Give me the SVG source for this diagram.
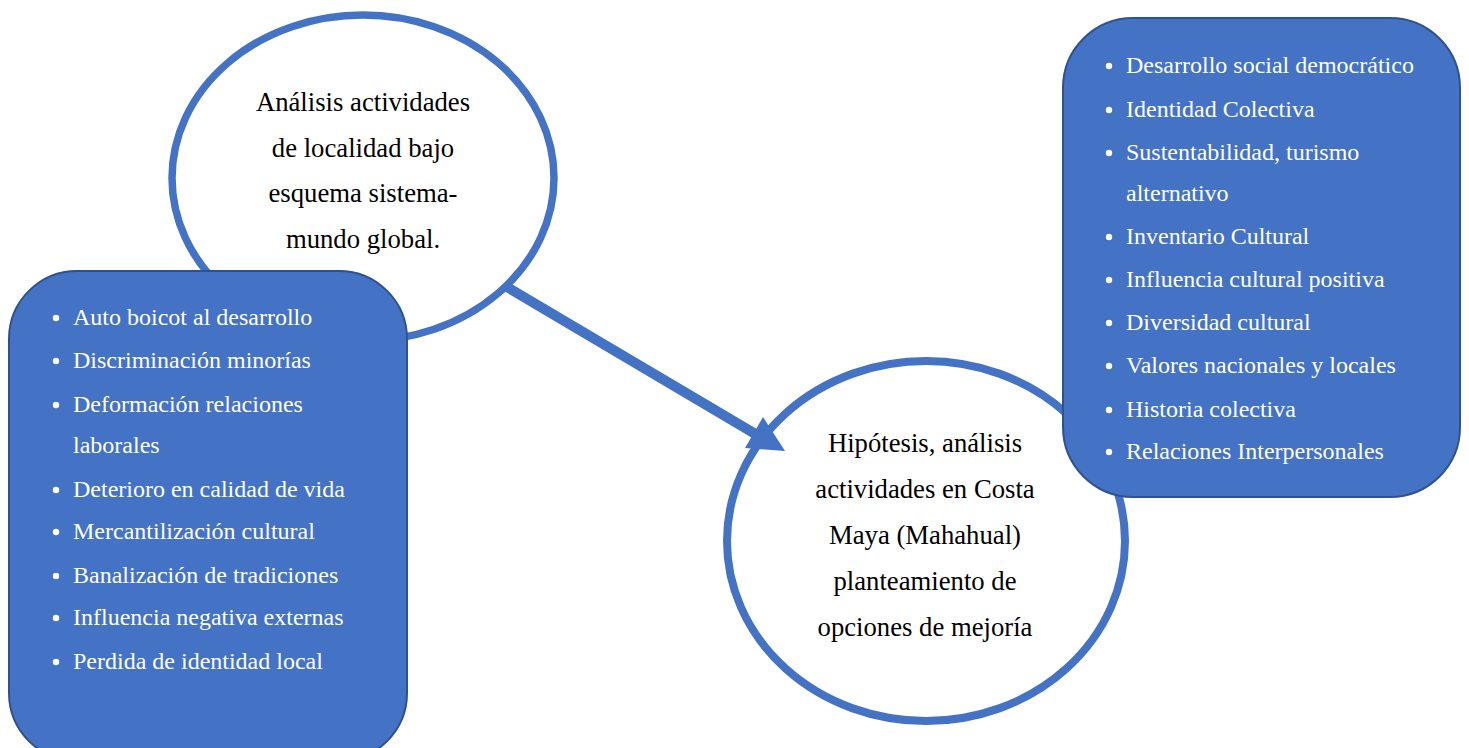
<svg xmlns="http://www.w3.org/2000/svg" width="1469" height="748" viewBox="0 0 1469 748">
<style>
.ell{fill:#fff;stroke:#4472C4;}
.box{fill:#4472C4;stroke:#2F528F;stroke-width:2;}
.et{font-family:"Liberation Serif","Times New Roman",serif;font-size:26.7px;fill:#000;text-anchor:middle;}
.bt{font-family:"Liberation Serif","Times New Roman",serif;font-size:24px;fill:#fff;}
.dot{fill:#fff;}
</style>
<rect width="1469" height="748" fill="#fff"/>
<g id="node-analisis">
<ellipse class="ell" cx="363" cy="178" rx="191" ry="163" stroke-width="7.5"/>
<text class="et" x="363" y="111">Análisis actividades</text>
<text class="et" x="363" y="157">de localidad bajo</text>
<text class="et" x="363" y="202">esquema sistema-</text>
<text class="et" x="363" y="248">mundo global.</text>
</g>
<g id="node-negativos">
<rect class="box" x="9" y="271" width="398" height="490" rx="68" ry="68"/>
<g class="dot">
<circle cx="56" cy="318" r="3.2"/><circle cx="56" cy="361" r="3.2"/><circle cx="56" cy="405" r="3.2"/>
<circle cx="56" cy="490" r="3.2"/><circle cx="56" cy="532" r="3.2"/><circle cx="56" cy="576" r="3.2"/>
<circle cx="56" cy="618" r="3.2"/><circle cx="56" cy="662" r="3.2"/>
</g>
<text class="bt" x="73" y="325">Auto boicot al desarrollo</text>
<text class="bt" x="73" y="368">Discriminación minorías</text>
<text class="bt" x="73" y="412">Deformación relaciones</text>
<text class="bt" x="73" y="453">laborales</text>
<text class="bt" x="73" y="497">Deterioro en calidad de vida</text>
<text class="bt" x="73" y="539">Mercantilización cultural</text>
<text class="bt" x="73" y="583">Banalización de tradiciones</text>
<text class="bt" x="73" y="625">Influencia negativa externas</text>
<text class="bt" x="73" y="669">Perdida de identidad local</text>
</g>
<g id="node-hipotesis">
<ellipse class="ell" cx="926" cy="541" rx="199" ry="180" stroke-width="8"/>
<text class="et" x="925" y="452">Hipótesis, análisis</text>
<text class="et" x="925" y="498">actividades en Costa</text>
<text class="et" x="925" y="544">Maya (Mahahual)</text>
<text class="et" x="925" y="590">planteamiento de</text>
<text class="et" x="925" y="636">opciones de mejoría</text>
</g>
<g id="node-positivos">
<rect class="box" x="1063" y="18" width="397" height="479" rx="70" ry="70"/>
<g class="dot">
<circle cx="1109" cy="66" r="3.2"/><circle cx="1109" cy="110" r="3.2"/><circle cx="1109" cy="153" r="3.2"/>
<circle cx="1109" cy="237" r="3.2"/><circle cx="1109" cy="280" r="3.2"/><circle cx="1109" cy="323" r="3.2"/>
<circle cx="1109" cy="366" r="3.2"/><circle cx="1109" cy="410" r="3.2"/><circle cx="1109" cy="452" r="3.2"/>
</g>
<text class="bt" x="1126" y="73">Desarrollo social democrático</text>
<text class="bt" x="1126" y="117">Identidad Colectiva</text>
<text class="bt" x="1126" y="160">Sustentabilidad, turismo</text>
<text class="bt" x="1126" y="201">alternativo</text>
<text class="bt" x="1126" y="244">Inventario Cultural</text>
<text class="bt" x="1126" y="287">Influencia cultural positiva</text>
<text class="bt" x="1126" y="330">Diversidad cultural</text>
<text class="bt" x="1126" y="373">Valores nacionales y locales</text>
<text class="bt" x="1126" y="417">Historia colectiva</text>
<text class="bt" x="1126" y="459">Relaciones Interpersonales</text>
</g>
<g id="connectors">
<line x1="507" y1="287" x2="762" y2="438" stroke="#4472C4" stroke-width="10"/>
<polygon points="763,417 745,448 785,451" fill="#4472C4"/>
</g>
</svg>
